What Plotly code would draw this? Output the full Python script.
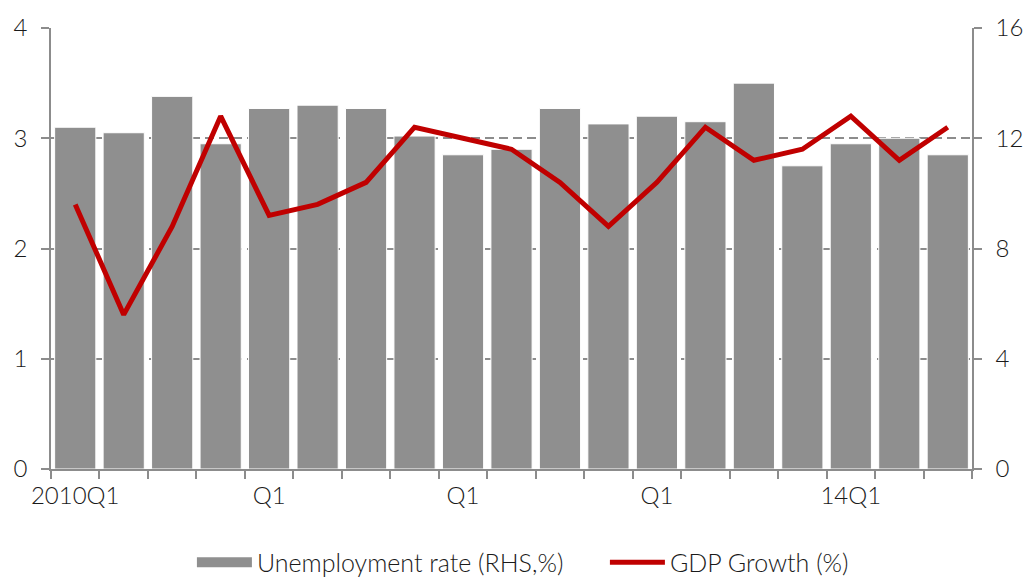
import plotly.graph_objects as go

quarters = [f"{y}Q{q}" for y in range(2010, 2015) for q in range(1, 5)][:19]
tick_labels = ["2010Q1", "", "", "", "Q1", "", "", "", "Q1", "", "", "", "Q1", "", "", "", "14Q1", "", ""]
unemployment = [3.10, 3.05, 3.38, 2.95, 3.27, 3.30, 3.27, 3.02, 2.85, 2.90,
                3.27, 3.13, 3.20, 3.15, 3.50, 2.75, 2.95, 3.00, 2.85]
gdp_growth = [9.6, 5.6, 8.8, 12.8, 9.2, 9.6, 10.4, 12.4, 12.0, 11.6,
              10.4, 8.8, 10.4, 12.4, 11.2, 11.6, 12.8, 11.2, 12.4]

FONT = "Lato"
TXT = "#1a1a1a"
AX = "#8c8c8c"
BAR = "#8f8f8f"
FS = 24

tf = dict(family=FONT, size=FS, color=TXT, weight=300)
lf = dict(family=FONT, size=25, color=TXT, weight=300)

fig = go.Figure()
fig.add_trace(go.Bar(
    x=quarters, y=unemployment, name="Unemployment rate (RHS,%)",
    marker=dict(color=BAR, line=dict(color="#ffffff", width=1)),
    yaxis="y", showlegend=False,
))
# legend entry drawn as a wide swatch like the reference
fig.add_trace(go.Scatter(
    x=[None], y=[None], name="Unemployment rate (RHS,%)", mode="lines",
    line=dict(color=BAR, width=16), yaxis="y",
))
fig.add_trace(go.Scatter(
    x=quarters, y=gdp_growth, name="GDP Growth (%)", mode="lines",
    line=dict(color="#c00000", width=5),
    yaxis="y2",
))

fig.update_layout(
    width=1025, height=577,
    margin=dict(l=51, r=53, t=28, b=108, autoexpand=False),
    paper_bgcolor="white", plot_bgcolor="white",
    font=tf,
    bargap=0.15,
    showlegend=True,
    legend=dict(orientation="h", x=0.153, xanchor="left", y=-0.212, yanchor="middle",
                font=lf, itemwidth=55, traceorder="normal", entrywidth=343),
    xaxis=dict(
        type="category", tickmode="array", tickvals=quarters, ticktext=tick_labels,
        tickson="boundaries", ticks="outside", ticklen=8, tickcolor=AX, tickwidth=1.5,
        showline=True, linecolor=AX, linewidth=1.5, showgrid=False,
        tickfont=tf, tickangle=0, automargin=False, ticklabelstandoff=4,
    ),
    yaxis=dict(
        range=[0, 4], tickvals=[0, 1, 2, 3, 4], ticks="outside", ticklen=8,
        tickcolor=AX, tickwidth=1.5, showline=True, linecolor=AX, linewidth=1.5,
        showgrid=True, gridcolor="#8c8c8c", griddash="9px,5px", gridwidth=1.5,
        zeroline=False, tickfont=tf, automargin=False, ticklabelstandoff=9,
    ),
    yaxis2=dict(
        range=[0, 16], tickvals=[0, 4, 8, 12, 16], overlaying="y", side="right",
        ticks="outside", ticklen=8, tickcolor=AX, tickwidth=1.5,
        showline=True, linecolor=AX, linewidth=1.5, showgrid=False, zeroline=False,
        tickfont=tf, automargin=False, ticklabelstandoff=9,
    ),
)

fig.write_html("out.html", config={"displayModeBar": False},
               post_script="document.body.style.margin='0';")
